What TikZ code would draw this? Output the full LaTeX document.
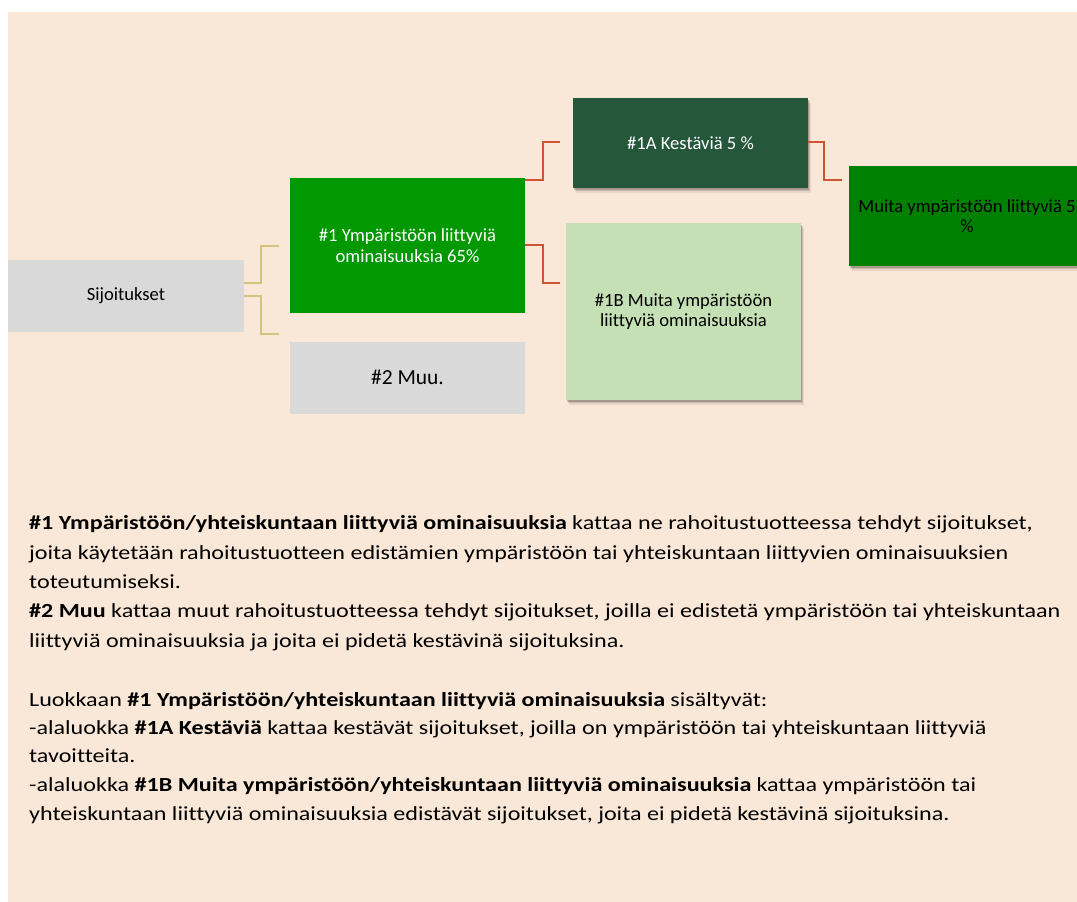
\documentclass[tikz,border=0pt]{standalone}
\usepackage{fontspec}
\setmainfont{Carlito}[RawFeature=-liga]
\newfontfamily\bodyfont{Carlito}[FakeStretch=1.205, RawFeature=-liga]
\usetikzlibrary{shadows}
\definecolor{bgbeige}{RGB}{249,231,215}
\definecolor{boxgray}{RGB}{217,217,217}
\definecolor{greenA}{RGB}{0,153,0}
\definecolor{greenDark}{RGB}{37,87,59}
\definecolor{greenMid}{RGB}{0,128,0}
\definecolor{greenLight}{RGB}{197,224,180}
\definecolor{redline}{RGB}{208,84,52}
\definecolor{tanline}{RGB}{212,194,125}
\tikzset{
  boxnode/.style={rectangle, inner sep=0pt, align=center, font=\fontsize{18.6}{20.5}\selectfont},
  shadowed/.style={
    drop shadow={shadow xshift=1pt, shadow yshift=-1.5pt, opacity=0.18, fill=black},
    drop shadow={shadow xshift=1.8pt, shadow yshift=-3pt, opacity=0.12, fill=black},
    drop shadow={shadow xshift=2.5pt, shadow yshift=-4.5pt, opacity=0.07, fill=black}},
  redconn/.style={draw=redline, line width=1.5pt},
  tanconn/.style={draw=tanline, line width=1.6pt},
  bodyline/.style={anchor=base west, inner sep=0pt, font=\bodyfont\fontsize{20}{24}\selectfont}
}
\begin{document}
\begin{tikzpicture}[x=1pt, y=-1pt]
\useasboundingbox (0,0) rectangle (1077,902);
\clip (0,0) rectangle (1077,902);
\fill[bgbeige] (8,12) rectangle (1077,902);

% boxes
\node[boxnode, fill=boxgray, minimum width=236pt, minimum height=72pt] (sij) at (126,296) {Sijoitukset};
\node[boxnode, fill=greenA, text=white, minimum width=235pt, minimum height=135pt, font=\fontsize{18.6}{21.5}\selectfont] (n1) at (407.5,245.5) {\#1 Ympäristöön liittyviä\\ominaisuuksia 65\%};
\node[boxnode, fill=boxgray, minimum width=235pt, minimum height=72pt, font=\fontsize{21.5}{24}\selectfont] (n2) at (407.5,377.5) {\#2 Muu.};
\node[boxnode, shadowed, fill=greenDark, text=white, minimum width=235pt, minimum height=90pt] (n1a) at (690.5,143) {\#1A Kestäviä 5 \%};
\node[boxnode, shadowed, fill=greenLight, minimum width=235pt, minimum height=177pt] (n1b) at (683.5,311.5) {\#1B Muita ympäristöön\\liittyviä ominaisuuksia};
\node[boxnode, shadowed, fill=greenMid, minimum width=236pt, minimum height=100pt] (muita) at (967,216) {Muita ympäristöön liittyviä 5\\\%};

% connector ends
\coordinate (tA) at (278.7,245.7);
\coordinate (tB) at (278.7,333.7);
\coordinate (rA) at (560,142);
\coordinate (rB) at (560,283);
\coordinate (rC) at (842,180);

\draw[tanconn] ([yshift=13pt]sij.east) -- ++(17,0) |- (tA);
\draw[tanconn] (sij.east) -- ++(17,0) |- (tB);
\draw[redconn] ([yshift=65.5pt]n1.east) -- ++(18,0) |- (rA);
\draw[redconn] ([yshift=0.5pt]n1.east) -- ++(18,0) |- (rB);
\draw[redconn] ([yshift=1pt]n1a.east) -- ++(16,0) |- (rC);

% body text
\node[bodyline] (l1) at (29,529) {\textbf{\#1 Ympäristöön/yhteiskuntaan liittyviä ominaisuuksia} kattaa ne rahoitustuotteessa tehdyt sijoitukset,};
\node[bodyline] (l2) at (29,559) {joita käytetään rahoitustuotteen edistämien ympäristöön tai yhteiskuntaan liittyvien ominaisuuksien};
\node[bodyline] (l3) at (29,588) {toteutumiseksi.};
\node[bodyline] (l4) at (29,617) {\textbf{\#2 Muu} kattaa muut rahoitustuotteessa tehdyt sijoitukset, joilla ei edistetä ympäristöön tai yhteiskuntaan};
\node[bodyline] (l5) at (29,647) {liittyviä ominaisuuksia ja joita ei pidetä kestävinä sijoituksina.};
\node[bodyline] (l6) at (29,706) {Luokkaan \textbf{\#1 Ympäristöön/yhteiskuntaan liittyviä ominaisuuksia} sisältyvät:};
\node[bodyline] (l7) at (29,734) {-alaluokka \textbf{\#1A Kestäviä} kattaa kestävät sijoitukset, joilla on ympäristöön tai yhteiskuntaan liittyviä};
\node[bodyline] (l8) at (29,762) {tavoitteita.};
\node[bodyline] (l9) at (29,791) {-alaluokka \textbf{\#1B Muita ympäristöön/yhteiskuntaan liittyviä ominaisuuksia} kattaa ympäristöön tai};
\node[bodyline] (l10) at (29,820) {yhteiskuntaan liittyviä ominaisuuksia edistävät sijoitukset, joita ei pidetä kestävinä sijoituksina.};
\end{tikzpicture}
\end{document}
